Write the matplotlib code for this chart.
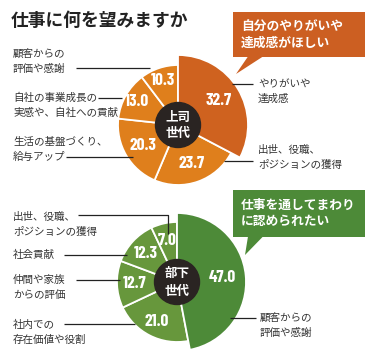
import numpy as np
import matplotlib
matplotlib.use('Agg')
import matplotlib.pyplot as plt
from matplotlib.patches import Circle, Rectangle, Polygon

plt.rcParams['font.family'] = ['Noto Sans CJK JP', 'DejaVu Sans']

# ---------------------------------------------------------------
# Data (percent), clockwise from 12 o'clock
# ---------------------------------------------------------------
boss_labels = ['やりがいや\n達成感', '出世、役職、\nポジションの獲得', '生活の基盤づくり、\n給与アップ',
               '自社の事業成長の\n実感や、自社への貢献', '顧客からの\n評価や感謝']
boss_values = [32.7, 23.7, 20.3, 13.0, 10.3]

sub_labels = ['顧客からの\n評価や感謝', '社内での\n存在価値や役割', '仲間や家族\nからの評価',
              '社会貢献', '出世、役職、\nポジションの獲得']
sub_values = [47.0, 21.0, 12.7, 12.3, 7.0]

title = '仕事に何を望みますか'
boss_center_text = '上司\n世代'
sub_center_text = '部下\n世代'
boss_callout = '自分のやりがいや\n達成感がほしい'
sub_callout = '仕事を通してまわり\nに認められたい'

W, H = 375, 359
fig = plt.figure(figsize=(W / 100, H / 100), dpi=100)
ax = fig.add_axes([0, 0, 1, 1])


def Y(y):
    # image pixel row -> axes y (y up)
    return H - y


def draw_donut(values, center, r_big, r_small, c_big, c_small, label_r, center_text):
    cx, cy = center
    wedges, _ = ax.pie(values, radius=r_small, center=(cx, Y(cy)), startangle=90,
                       counterclock=False, colors=[c_big] + [c_small] * (len(values) - 1),
                       wedgeprops=dict(edgecolor='white', linewidth=1.3))
    wedges[0].set_radius(r_big)
    wedges[0].set_zorder(3)
    for w in wedges[1:]:
        w.set_zorder(2)

    # value labels at mid angle of each slice
    start = 0.0
    for v, lr in zip(values, label_r):
        mid = np.deg2rad((start + v / 2) / 100 * 360)
        x = cx + lr * np.sin(mid)
        y = cy - lr * np.cos(mid)
        ax.text(x, Y(y), f'{v:.1f}', color='white', fontsize=12.5, fontweight='bold',
                family=['Barlow Condensed', 'DejaVu Sans'], ha='center', va='center', zorder=6)
        start += v

    ax.add_patch(Circle((cx, Y(cy)), 22.5, color='#2a2422', zorder=5))
    for i, line in enumerate(center_text.split('\n')):
        ax.text(cx, Y(cy - 8 + i * 17), line, color='white', fontsize=9, fontweight='bold',
                ha='center', va='center', zorder=6)


def draw_label(text, x, y, line_pts):
    for i, line in enumerate(text.split('\n')):
        ax.text(x, Y(y + i * 15), line, color='#333333', fontsize=7.6, ha='left', va='center', zorder=7)
    xs = [p[0] for p in line_pts]
    ys = [Y(p[1]) for p in line_pts]
    ax.plot(xs, ys, color='#222222', lw=0.9, zorder=7, solid_capstyle='butt')


def draw_callout(text, box, tip, color):
    x0, y0, x1, y1 = box
    ax.add_patch(Rectangle((x0, Y(y1)), x1 - x0, y1 - y0, facecolor=color, edgecolor='none', zorder=8))
    ax.add_patch(Polygon([(248, Y(y1) + 0.5), (263, Y(y1) + 0.5), (tip[0], Y(tip[1]))],
                         closed=True, facecolor=color, edgecolor='none', zorder=8))
    for i, line in enumerate(text.split('\n')):
        ax.text(x0 + 8, Y(y0 + 15 + i * 16), line, color='white', fontsize=9.2, fontweight='bold',
                ha='left', va='center', zorder=9)


# title
ax.text(11, Y(21), title, fontsize=12.8, fontweight='bold', color='#222222', ha='left', va='center')

# ---------------------------------------------------------------
# Top: 上司世代
# ---------------------------------------------------------------
draw_donut(boss_values, (178, 125), 70, 60, '#cf621f', '#df7f1c', [47, 41, 41, 47, 47], boss_center_text)

draw_label(boss_labels[0], 258, 84, [(232, 84), (253, 84)])
draw_label(boss_labels[1], 258, 150, [(224, 161), (253, 161)])
draw_label(boss_labels[2], 13, 142, [(66, 157), (133, 157)])
draw_label(boss_labels[3], 13, 98, [(98, 98), (122, 98)])
draw_label(boss_labels[4], 13, 54, [(76, 68), (150, 68)])

draw_callout(boss_callout, (233, 12, 365, 57), (236, 74), '#cc5f22')

# ---------------------------------------------------------------
# Bottom: 部下世代
# ---------------------------------------------------------------
draw_donut(sub_values, (177, 282), 69, 60, '#4d8a38', '#67973c', [46, 44, 42, 42, 43], sub_center_text)

draw_label(sub_labels[0], 260, 318, [(230, 318), (256, 318)])
draw_label(sub_labels[1], 13, 325, [(64, 324), (135, 324)])
draw_label(sub_labels[2], 13, 280, [(76, 280), (120, 280)])
draw_label(sub_labels[3], 13, 255, [(64, 255), (127, 255)])
draw_label(sub_labels[4], 13, 217, [(78, 215), (168, 215), (168, 234)])

draw_callout(sub_callout, (233, 190, 365, 237), (245, 255), '#4d8a38')

ax.set_xlim(0, W)
ax.set_ylim(0, H)
ax.set_aspect('auto')
ax.axis('off')

fig.savefig('out.png', dpi=100, facecolor='white')
